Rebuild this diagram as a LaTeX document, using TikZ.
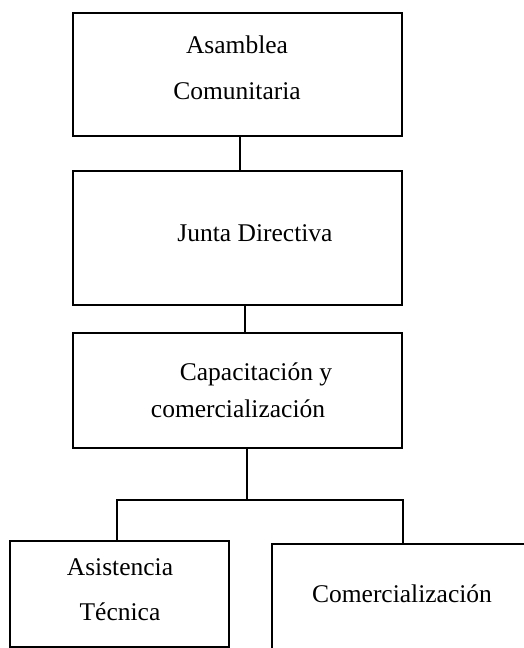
\documentclass[tikz,border=0pt]{standalone}
\usepackage{fontspec}
\setmainfont{Liberation Serif}
\begin{document}
\begin{tikzpicture}[x=1pt,y=-1pt,
  box/.style={draw=black, line width=2.8pt, rectangle, inner sep=0pt},
  conn/.style={draw=black, line width=1.7pt},
  lbl/.style={anchor=base, inner sep=0pt, font=\fontsize{25.5}{30}\selectfont}]
\useasboundingbox (0,0) rectangle (524,648);
\fill[white] (0,0) rectangle (524,648);
% boxes
\node[box, minimum width=329pt, minimum height=123pt] (b1) at (237.5,74.5) {};
\node[box, minimum width=329pt, minimum height=134pt] (b2) at (237.5,238) {};
\node[box, minimum width=329pt, minimum height=115pt] (b3) at (237.5,390.5) {};
\node[box, minimum width=219pt, minimum height=106pt] (b4) at (119.5,594) {};
\node[box, minimum width=268pt, minimum height=126pt] (b5) at (406,607) {};
% labels
\node[lbl] (t1a) at (237,53) {Asamblea};
\node[lbl] (t1b) at (237,99) {Comunitaria};
\node[lbl] (t2) at (255,241) {Junta Directiva};
\node[lbl] (t3a) at (256,380) {Capacitación y};
\node[lbl] (t3b) at (238,417) {comercialización};
\node[lbl] (t4a) at (120,575) {Asistencia};
\node[lbl] (t4b) at (120,620) {Técnica};
\node[lbl] (t5) at (402,602) {Comercialización};
% connectors
\coordinate (j) at (247,500);
\draw[conn] ([xshift=2.5pt]b1.south) -- ([xshift=2.5pt]b2.north);
\draw[conn] ([xshift=7.5pt]b2.south) -- ([xshift=7.5pt]b3.north);
\draw[conn] ([xshift=9.5pt]b3.south) -- (j);
\draw[conn] ([xshift=-2.5pt]b4.north) |- (j) -| ([xshift=-3pt]b5.north);
\end{tikzpicture}
\end{document}
